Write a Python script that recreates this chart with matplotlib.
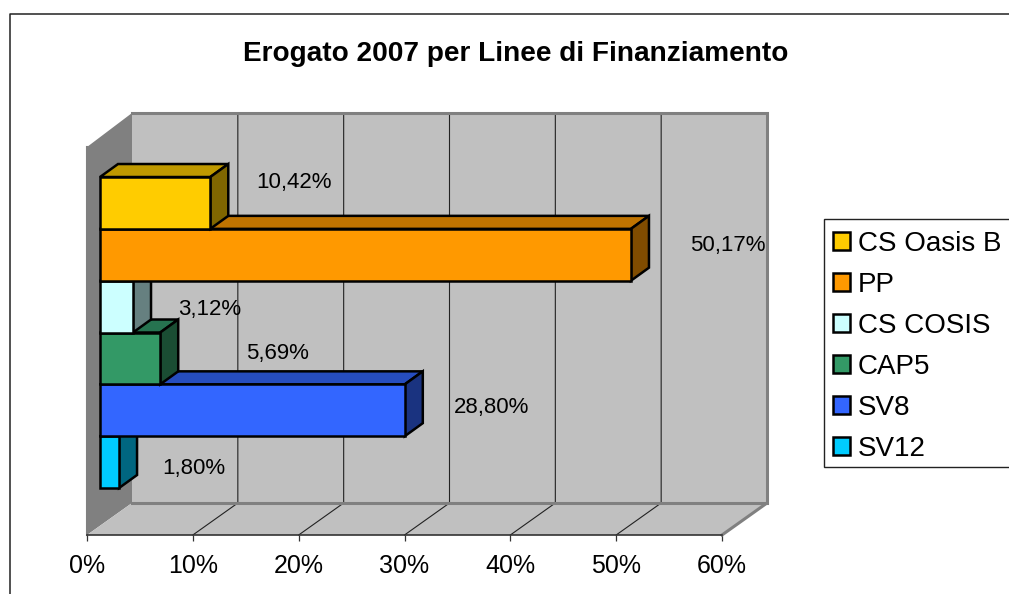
import matplotlib
matplotlib.use("Agg")
import matplotlib.pyplot as plt
from matplotlib.lines import Line2D
from matplotlib.patches import Patch, Polygon, Rectangle

# top to bottom, same order as the legend
categories = ["CS Oasis B", "PP", "CS COSIS", "CAP5", "SV8", "SV12"]
values = [10.42, 50.17, 3.12, 5.69, 28.80, 1.80]
value_labels = ["10,42%", "50,17%", "3,12%", "5,69%", "28,80%", "1,80%"]
x_ticks = [0, 10, 20, 30, 40, 50, 60]
x_tick_labels = ["0%", "10%", "20%", "30%", "40%", "50%", "60%"]
title = "Erogato 2007 per Linee di Finanziamento"

front_colors = ["#FFCC00", "#FF9900", "#CCFFFF", "#339966", "#3366FF", "#00CCFF"]
top_colors = ["#BF9900", "#BF7300", "#99BFBF", "#267350", "#264DBF", "#0099BF"]
side_colors = ["#806600", "#804C00", "#668080", "#1A4D33", "#1A3380", "#006680"]

# label offsets from the end of each bar, pixels
label_offsets = [(84, 20), (97, 9), (77, -3), (117, 5), (87, 3), (75, -6)]

W, H = 1009, 594
FONT = "Liberation Sans"
PX_X = 635 / 60.0   # pixels per percent
PX_Y = 51.83        # pixels per bar
WALL_DX = 45 / PX_X
WALL_DY = 32 / PX_Y
WALL_TOP = 422 / PX_Y
FRONT_TOP = 388 / PX_Y
BAR_DX = 18 / PX_X
BAR_DY = 13 / PX_Y
BAR_X0 = 13 / PX_X
BAR_Y0 = 47 / PX_Y


def fx(x):
    return x / W


def fy(y):
    return 1 - y / H


def add_poly(ax, pts, color, edge="none", lw=0, z=1):
    ax.add_patch(Polygon(pts, closed=True, facecolor=color, edgecolor=edge,
                         linewidth=lw, zorder=z, clip_on=False, joinstyle="miter"))


def draw_walls(ax):
    x0, x1 = x_ticks[0], x_ticks[-1]
    # side wall and floor
    add_poly(ax, [(x0, 0), (x0, FRONT_TOP), (x0 + WALL_DX, WALL_TOP),
                  (x0 + WALL_DX, WALL_DY)], "#808080", z=1)
    add_poly(ax, [(x0, 0), (x1, 0), (x1 + WALL_DX, WALL_DY), (x0 + WALL_DX, WALL_DY)],
             "#C0C0C0", z=1)
    add_poly(ax, [(x0 + WALL_DX, WALL_DY), (x1 + WALL_DX, WALL_DY),
                  (x1 + WALL_DX, WALL_TOP), (x0 + WALL_DX, WALL_TOP)], "#C0C0C0", z=1)
    # grid lines over floor and back wall
    for t in x_ticks[1:-1]:
        ax.plot([t, t + WALL_DX, t + WALL_DX], [0, WALL_DY, WALL_TOP], color="#222222",
                lw=0.8, zorder=2, clip_on=False)
    # grey border of the back wall
    ax.plot([x0 + WALL_DX, x1 + WALL_DX, x1 + WALL_DX, x0 + WALL_DX],
            [WALL_TOP, WALL_TOP, WALL_DY, WALL_DY], color="#808080", lw=2.2, zorder=3,
            clip_on=False, solid_joinstyle="miter")
    ax.plot([x1, x1 + WALL_DX], [0, WALL_DY], color="#808080", lw=2.2, zorder=3, clip_on=False)
    ax.plot([x0, x0], [0, FRONT_TOP], color="#808080", lw=1.5, zorder=3, clip_on=False)


def draw_bars(ax):
    # bottom bar first so that the upper ones cover its top face
    n = len(values)
    for i in range(n - 1, -1, -1):
        row = n - 1 - i
        v = values[i]
        y0 = BAR_Y0 + row
        y1 = y0 + 1
        x0 = BAR_X0
        x1 = BAR_X0 + v
        z = 5 + row
        add_poly(ax, [(x0, y1), (x0 + BAR_DX, y1 + BAR_DY), (x1 + BAR_DX, y1 + BAR_DY), (x1, y1)],
                 top_colors[i], "black", 1.8, z)
        add_poly(ax, [(x1, y0), (x1 + BAR_DX, y0 + BAR_DY), (x1 + BAR_DX, y1 + BAR_DY), (x1, y1)],
                 side_colors[i], "black", 1.8, z)
        add_poly(ax, [(x0, y0), (x1, y0), (x1, y1), (x0, y1)], front_colors[i], "black", 1.8, z)
        dx, dy = label_offsets[i]
        ax.annotate(value_labels[i], (x1, (y0 + y1) / 2), xytext=(dx * 0.72, dy * 0.72),
                    textcoords="offset points", ha="center", va="center", fontsize=16,
                    family=FONT, color="black", zorder=20, annotation_clip=False)


def main():
    fig = plt.figure(figsize=(W / 100, H / 100), dpi=100, facecolor="white")
    ax = fig.add_axes([fx(87), fy(535), 635 / W, 388 / H])
    ax.set_xlim(x_ticks[0], x_ticks[-1])
    ax.set_ylim(0, FRONT_TOP)
    ax.patch.set_visible(False)
    for s in ["top", "left", "right"]:
        ax.spines[s].set_visible(False)
    ax.spines["bottom"].set_color("#333333")
    ax.spines["bottom"].set_linewidth(1.2)
    ax.spines["bottom"].set_zorder(4)
    ax.set_yticks([])
    ax.set_xticks(x_ticks)
    ax.set_xticklabels(x_tick_labels, fontsize=18, family=FONT)
    ax.tick_params(axis="x", length=4.5, width=0.9, color="#333333", pad=9.3)

    draw_walls(ax)
    draw_bars(ax)

    # outer chart frame, open at bottom and right
    fig.add_artist(Line2D([fx(10), fx(10), fx(W)], [fy(H), fy(13.5), fy(13.5)],
                          color="#222222", lw=1.1))
    fig.text(fx(516), fy(54), title, ha="center", va="center", fontsize=20.2,
             fontweight="bold", family=FONT)

    # legend box runs off the right edge
    fig.add_artist(Rectangle((fx(824), fy(467)), (W + 20 - 824) / W, 248 / H,
                             transform=fig.transFigure, facecolor="white",
                             edgecolor="#222222", linewidth=1.0))
    handles = [Patch(facecolor=c, edgecolor="black", linewidth=1.8) for c in front_colors]
    fig.legend(handles, categories, loc="upper left", bbox_to_anchor=(fx(833), fy(231)),
               bbox_transform=fig.transFigure, frameon=False, borderaxespad=0, borderpad=0,
               prop={"family": FONT, "size": 20}, handlelength=0.61, handleheight=0.61,
               handletextpad=0.29, labelspacing=0.54)

    fig.savefig("out.png", dpi=100)


if __name__ == "__main__":
    main()
